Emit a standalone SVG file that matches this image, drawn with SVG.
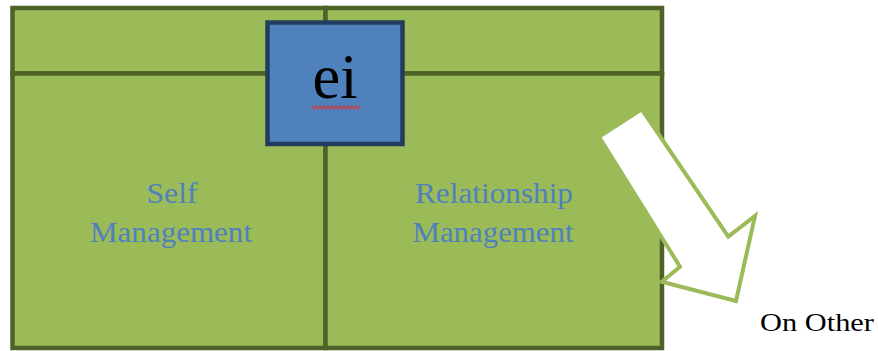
<svg xmlns="http://www.w3.org/2000/svg" width="878" height="351" viewBox="0 0 878 351">
<style>
.cell{fill:#9bbb59;stroke:#4f6228;stroke-width:4.5}
.lbl{font-family:"Liberation Serif","Times New Roman",serif;font-size:30px;fill:#4f81bd;text-anchor:middle}
.blk{font-family:"Liberation Serif","Times New Roman",serif;fill:#000}
</style>
<rect width="878" height="351" fill="#fff"/>
<g id="cell-top-left"><rect class="cell" x="12.5" y="8" width="313" height="65.5"/></g>
<g id="cell-top-right"><rect class="cell" x="325.5" y="8" width="336.5" height="65.5"/></g>
<g id="self-management">
<rect class="cell" x="12.5" y="73.5" width="313" height="274.5"/>
<text class="lbl" x="172" y="203" textLength="51" lengthAdjust="spacingAndGlyphs">Self</text>
<text class="lbl" x="171" y="241.5" textLength="162" lengthAdjust="spacingAndGlyphs">Management</text>
</g>
<g id="relationship-management">
<rect class="cell" x="325.5" y="73.5" width="336.5" height="274.5"/>
<text class="lbl" x="494" y="203" textLength="158" lengthAdjust="spacingAndGlyphs">Relationship</text>
<text class="lbl" x="493" y="241.5" textLength="161" lengthAdjust="spacingAndGlyphs">Management</text>
</g>
<g id="ei">
<rect x="267.5" y="22.5" width="135" height="121.5" fill="#4f81bd" stroke="#223c5e" stroke-width="4.5"/>
<text class="blk" x="335" y="98" font-size="64" text-anchor="middle" textLength="45" lengthAdjust="spacingAndGlyphs">ei</text>
<polyline points="312,106 314,109 316,106 318,109 320,106 322,109 324,106 326,109 328,106 330,109 332,106 334,109 336,106 338,109 340,106 342,109 344,106 346,109 348,106 350,109 352,106 354,109 356,106 358,109 360,106" fill="none" stroke="#e03030" stroke-width="1.2"/>
</g>
<g id="connectors">
<polygon points="641.7,109.3 599,136.7 680,266.7 661.7,281.7 736,301 755,216 728.3,236.7" fill="#fff" stroke="#9bbb59" stroke-width="4" stroke-linejoin="miter"/>
</g>
<g id="on-other">
<text class="blk" x="760" y="331" font-size="26" textLength="114" lengthAdjust="spacingAndGlyphs">On Other</text>
</g>
</svg>
